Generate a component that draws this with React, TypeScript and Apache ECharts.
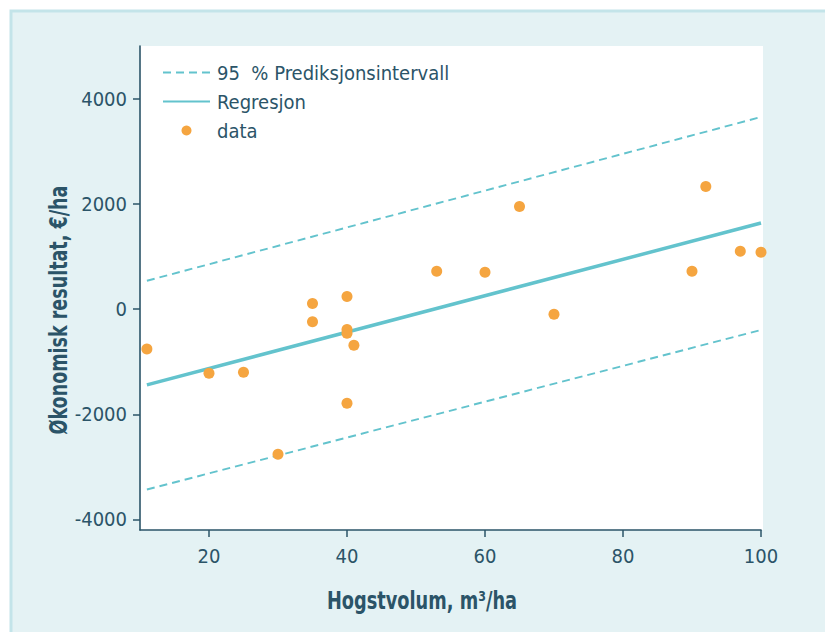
import React, { useEffect, useRef } from "react";
import * as echarts from "echarts";

const xTicks = [20, 40, 60, 80, 100];
const yTicks = [-4000, -2000, 0, 2000, 4000];

const dataX = [11, 20, 25, 30, 35, 35, 40, 40, 40, 41, 40, 53, 60, 65, 70, 90, 92, 97, 100];
const dataY = [-760, -1220, -1200, -2760, 107, -240, 240, -390, -460, -690, -1790, 720, 700, 1950, -100, 720, 2330, 1100, 1080];

const lineX = [11, 100];
const regressionY = [-1441, 1636];
const upperY = [537, 3650];
const lowerY = [-3431, -398];

const PI_NAME = "95  % Prediksjonsintervall";
const REG_NAME = "Regresjon";
const DATA_NAME = "data";

const TEXT = "#2b5468";
const TEAL = "#63c3cd";
const ORANGE = "#f5a540";
const FONT = "'DejaVu Sans Condensed', 'Liberation Sans Narrow', sans-serif";

export default function App() {
  const ref = useRef<HTMLDivElement>(null);
  useEffect(() => {
    if (!ref.current) return;
    const chart = echarts.init(ref.current, undefined, { renderer: "svg" });
    const pairs = (xs: number[], ys: number[]) => xs.map((x, i) => [x, ys[i]]);
    chart.setOption({
      animation: false,
      backgroundColor: "#ffffff",
      textStyle: { fontFamily: FONT },
      graphic: [
        {
          type: "rect",
          z: -20,
          silent: true,
          shape: { x: 11, y: 11, width: 900, height: 700 },
          style: { fill: "#e4f2f4", stroke: "#c3e4e9", lineWidth: 3 },
        },
        {
          type: "rect",
          z: -10,
          silent: true,
          shape: { x: 140, y: 46, width: 623, height: 484 },
          style: { fill: "#ffffff" },
        },
        {
          type: "text",
          x: 422,
          y: 600,
          scaleX: 0.79,
          silent: true,
          style: {
            text: "Hogstvolum, m³/ha",
            fill: TEXT,
            font: `bold 25px ${FONT}`,
            align: "center",
            verticalAlign: "middle",
          },
        },
        {
          type: "text",
          x: 58,
          y: 310,
          rotation: Math.PI / 2,
          scaleX: 0.78,
          silent: true,
          style: {
            text: "Økonomisk resultat, €/ha",
            fill: TEXT,
            font: `bold 25px ${FONT}`,
            align: "center",
            verticalAlign: "middle",
          },
        },
      ],
      grid: { left: 140, top: 46, width: 621, height: 484, containLabel: false },
      legend: {
        orient: "vertical",
        left: 162,
        top: 62,
        padding: 0,
        itemWidth: 47,
        itemHeight: 10,
        itemGap: 8,
        data: [
          { name: PI_NAME, itemStyle: { opacity: 0 } },
          { name: REG_NAME, itemStyle: { opacity: 0 } },
          { name: DATA_NAME },
        ],
        textStyle: { color: TEXT, fontSize: 20, lineHeight: 21, fontFamily: FONT, padding: [0, 0, 0, 2] },
      },
      xAxis: {
        type: "value",
        min: 10,
        max: 100,
        splitLine: { show: false },
        axisLine: { show: true, onZero: false, lineStyle: { color: TEXT, width: 1.6 } },
        axisTick: { show: true, length: 7, lineStyle: { color: TEXT, width: 1.5 }, customValues: xTicks },
        axisLabel: {
          color: TEXT,
          fontSize: 20,
          margin: 16,
          fontFamily: FONT,
          customValues: xTicks,
          formatter: (v: number) => String(v),
        },
      },
      yAxis: {
        type: "value",
        min: -4200,
        max: 5000,
        splitLine: { show: false },
        axisLine: { show: true, onZero: false, lineStyle: { color: TEXT, width: 1.6 } },
        axisTick: { show: true, length: 7, lineStyle: { color: TEXT, width: 1.5 }, customValues: yTicks },
        axisLabel: {
          color: TEXT,
          fontSize: 20,
          margin: 13,
          fontFamily: FONT,
          customValues: yTicks,
          formatter: (v: number) => String(v),
        },
      },
      series: [
        {
          name: PI_NAME,
          type: "line",
          symbol: "none",
          data: pairs(lineX, upperY),
          lineStyle: { color: TEAL, width: 1.9, type: [8, 5] },
          itemStyle: { color: TEAL },
          z: 2,
        },
        {
          name: PI_NAME,
          type: "line",
          symbol: "none",
          data: pairs(lineX, lowerY),
          lineStyle: { color: TEAL, width: 1.9, type: [8, 5] },
          itemStyle: { color: TEAL },
          z: 2,
        },
        {
          name: REG_NAME,
          type: "line",
          symbol: "none",
          data: pairs(lineX, regressionY),
          lineStyle: { color: TEAL, width: 3.5 },
          itemStyle: { color: TEAL },
          z: 3,
        },
        {
          name: DATA_NAME,
          type: "scatter",
          symbol: "circle",
          symbolSize: 11,
          data: pairs(dataX, dataY),
          itemStyle: { color: ORANGE, opacity: 1 },
          z: 4,
        },
      ],
    });
    return () => chart.dispose();
  }, []);
  return <div ref={ref} style={{ position: "absolute", left: 0, top: 0, width: 825, height: 632 }} />;
}
